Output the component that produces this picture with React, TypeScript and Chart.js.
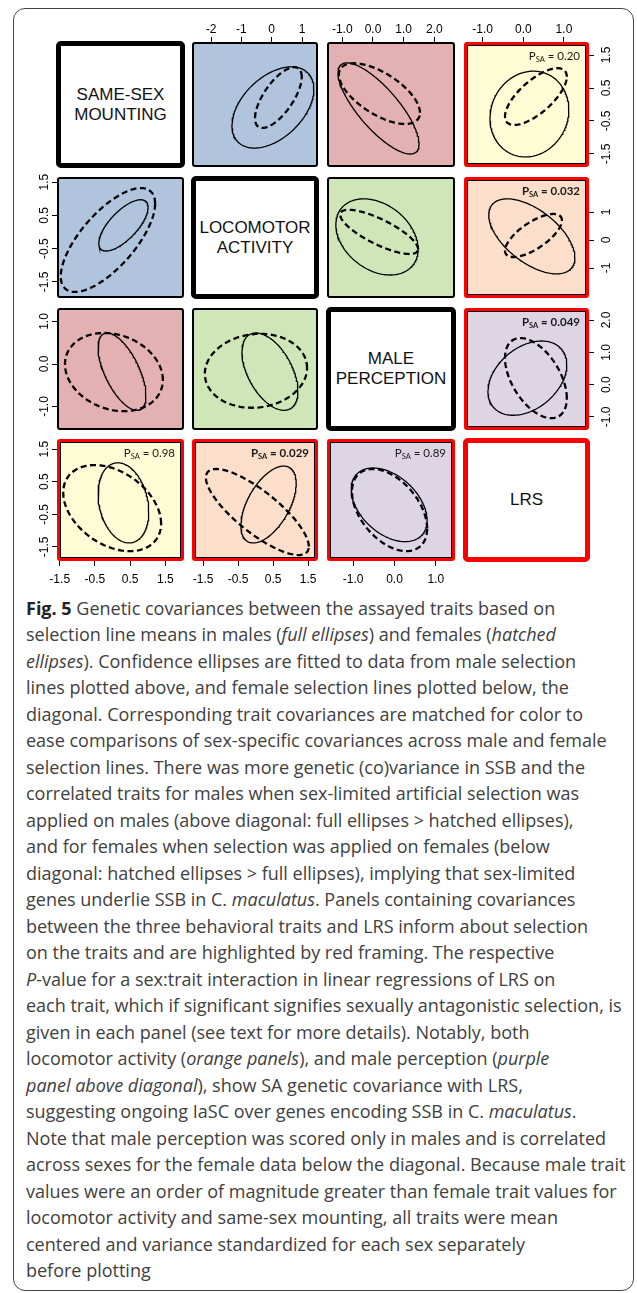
import React, { useEffect, useRef } from "react";
import { Chart, registerables } from "chart.js";
Chart.register(...registerables);

// ---------- DATA ----------
const TRAIT_LABELS = [["SAME-SEX", "MOUNTING"], ["LOCOMOTOR", "ACTIVITY"], ["MALE", "PERCEPTION"], ["LRS"]];

// off-diagonal panels: 6 above diagonal (male selection lines), 6 below (female)
const PANEL_ROW = [0, 0, 0, 1, 1, 2, 1, 2, 3, 2, 3, 3];
const PANEL_COL = [1, 2, 3, 2, 3, 3, 0, 0, 0, 1, 1, 2];

// full ellipses (males): centre, half-extent in x and y, correlation
const MALE_CX = [0.04, 0.18, 0.15, 0.13, 0.21, 0.10, 0.31, 0.27, 0.31, 0.41, 0.37, -0.13];
const MALE_CY = [-0.09, -0.12, -0.29, 0.11, 0.13, 0.20, 0.20, -0.18, -0.15, -0.18, -0.20, -0.21];
const MALE_SX = [1.35, 1.32, 0.97, 1.34, 1.06, 0.97, 0.70, 0.68, 0.72, 0.80, 0.79, 0.92];
const MALE_SY = [1.23, 1.38, 1.30, 1.36, 1.34, 1.15, 0.77, 0.91, 1.23, 0.91, 1.18, 1.13];
const MALE_R = [0.45, -0.78, 0.10, -0.32, -0.57, 0.36, 0.70, -0.62, -0.22, -0.50, 0.55, -0.42];

// hatched ellipses (females)
const FEMALE_CX = [0.22, 0.21, 0.31, 0.20, 0.25, 0.31, -0.13, 0.04, -0.01, 0.01, 0.05, -0.12];
const FEMALE_CY = [0.21, 0.33, 0.24, 0.29, 0.16, 0.20, -0.24, -0.19, -0.31, -0.16, -0.43, -0.37];
const FEMALE_SX = [0.77, 1.32, 0.76, 1.27, 0.70, 0.76, 1.34, 1.39, 1.39, 1.46, 1.47, 0.91];
const FEMALE_SY = [0.92, 0.92, 0.86, 0.79, 0.77, 1.24, 1.56, 0.92, 1.32, 0.87, 1.32, 1.26];
const FEMALE_R = [0.68, -0.63, 0.70, -0.78, 0.70, -0.50, 0.70, -0.20, -0.36, 0.08, -0.80, -0.45];

// axis limits of each panel
const X_MIN = [-2.628, -1.498, -1.459, -1.498, -1.459, -1.459, -1.577, -1.577, -1.577, -1.817, -1.817, -1.634];
const X_MAX = [1.527, 2.671, 1.616, 2.671, 1.616, 1.616, 2.031, 2.031, 2.031, 1.783, 1.783, 1.465];
const Y_MIN = [-1.894, -1.894, -1.894, -2.071, -2.071, -1.406, -1.982, -1.553, -1.933, -1.553, -1.933, -1.933];
const Y_MAX = [1.894, 1.894, 1.894, 2.25, 2.25, 2.372, 1.652, 1.318, 1.81, 1.318, 1.81, 1.81];

// tick sets
const TICKS_INT4 = [-2, -1, 0, 1];
const LABELS_INT4 = ["-2", "-1", "0", "1"];
const TICKS_DEC4 = [-1, 0, 1, 2];
const LABELS_DEC4 = ["-1.0", "0.0", "1.0", "2.0"];
const TICKS_DEC3 = [-1, 0, 1];
const LABELS_DEC3 = ["-1.0", "0.0", "1.0"];
const TICKS_HALF = [-1.5, -0.5, 0.5, 1.5];
const LABELS_HALF = ["-1.5", "-0.5", "0.5", "1.5"];
const TICKS_INT3 = [-1, 0, 1];
const LABELS_INT3 = ["-1", "0", "1"];

const X_SIDE = ["top", "top", "top", null, null, null, null, null, "bottom", null, "bottom", "bottom"];
const X_TICKS = [TICKS_INT4, TICKS_DEC4, TICKS_DEC3, null, null, null, null, null, TICKS_HALF, null, TICKS_HALF, TICKS_DEC3];
const X_LABELS = [LABELS_INT4, LABELS_DEC4, LABELS_DEC3, null, null, null, null, null, LABELS_HALF, null, LABELS_HALF, LABELS_DEC3];
const Y_SIDE = [null, null, "right", null, "right", "right", "left", "left", "left", null, null, null];
const Y_TICKS = [null, null, TICKS_HALF, null, TICKS_INT3, TICKS_DEC4, TICKS_HALF, TICKS_DEC3, TICKS_HALF, null, null, null];
const Y_LABELS = [null, null, LABELS_HALF, null, LABELS_INT3, LABELS_DEC4, LABELS_HALF, LABELS_DEC3, LABELS_HALF, null, null, null];

const P_VALUES = [null, null, "0.20", null, "0.032", "0.049", null, null, "0.98", null, "0.029", "0.89"];
const P_BOLD = [false, false, false, false, true, true, false, false, false, false, true, false];

const FILL_BLUE = "#b0c4de";
const FILL_PINK = "#e3b1b1";
const FILL_YELLOW = "#fefcd4";
const FILL_GREEN = "#cfe7b8";
const FILL_PEACH = "#fbdfcb";
const FILL_PURPLE = "#ddd5e4";
const PANEL_FILL = [FILL_BLUE, FILL_PINK, FILL_YELLOW, FILL_GREEN, FILL_PEACH, FILL_PURPLE,
  FILL_BLUE, FILL_PINK, FILL_YELLOW, FILL_GREEN, FILL_PEACH, FILL_PURPLE];

const CAPTION = [
  "**Fig. 5** Genetic covariances between the assayed traits based on",
  "selection line means in males (*full ellipses*) and females (*hatched*",
  "*ellipses*). Confidence ellipses are fitted to data from male selection",
  "lines plotted above, and female selection lines plotted below, the",
  "diagonal. Corresponding trait covariances are matched for color to",
  "ease comparisons of sex-specific covariances across male and female",
  "selection lines. There was more genetic (co)variance in SSB and the",
  "correlated traits for males when sex-limited artificial selection was",
  "applied on males (above diagonal: full ellipses > hatched ellipses),",
  "and for females when selection was applied on females (below",
  "diagonal: hatched ellipses > full ellipses), implying that sex-limited",
  "genes underlie SSB in C. *maculatus*. Panels containing covariances",
  "between the three behavioral traits and LRS inform about selection",
  "on the traits and are highlighted by red framing. The respective",
  "*P*-value for a sex:trait interaction in linear regressions of LRS on",
  "each trait, which if significant signifies sexually antagonistic selection, is",
  "given in each panel (see text for more details). Notably, both",
  "locomotor activity (*orange panels*), and male perception (*purple*",
  "*panel above diagonal*), show SA genetic covariance with LRS,",
  "suggesting ongoing IaSC over genes encoding SSB in C. *maculatus*.",
  "Note that male perception was scored only in males and is correlated",
  "across sexes for the female data below the diagonal. Because male trait",
  "values were an order of magnitude greater than female trait values for",
  "locomotor activity and same-sex mounting, all traits were mean",
  "centered and variance standardized for each sex separately",
  "before plotting",
];

// ---------- LAYOUT ----------
const COL_X = [57, 192, 327, 464];
const COL_W = [127, 126, 128, 125];
const ROW_Y = [42, 177, 308, 439];
const ROW_H = [125, 121, 122, 122];
const AXIS_W = 40;
const AXIS_H = 30;
const EXTRA = 14;
const TICK_FONT = { family: "'Liberation Sans', Arial, sans-serif", size: 12 };

function ellipse(cx: number, cy: number, sx: number, sy: number, r: number) {
  const d = Math.acos(r);
  const pts: { x: number; y: number }[] = [];
  const n = 180;
  for (let k = 0; k <= n; k++) {
    const t = (k / n) * 2 * Math.PI;
    pts.push({ x: cx + sx * Math.cos(t), y: cy + sy * Math.cos(t - d) });
  }
  return pts;
}

function Panel({ i }: { i: number }) {
  const ref = useRef<HTMLCanvasElement>(null);
  const r = PANEL_ROW[i];
  const c = PANEL_COL[i];
  const xs = X_SIDE[i];
  const ys = Y_SIDE[i];
  const mL = ys === "left" ? AXIS_W : EXTRA;
  const mR = ys === "right" ? AXIS_W : EXTRA;
  const mT = xs === "top" ? AXIS_H : EXTRA;
  const mB = xs === "bottom" ? AXIS_H : EXTRA;
  const w = COL_W[c] + mL + mR;
  const h = ROW_H[r] + mT + mB;
  const red = r === 3 || c === 3;

  useEffect(() => {
    if (!ref.current) return;
    const pval = P_VALUES[i];
    const bold = P_BOLD[i];
    const psaPlugin = {
      id: "psa",
      afterDraw(chart: any) {
        if (!pval) return;
        const { ctx, chartArea } = chart;
        const wt = bold ? "bold " : "";
        const mainFont = `${wt}11.5px Lato, 'Open Sans', sans-serif`;
        const subFont = `${wt}7.5px Lato, 'Open Sans', sans-serif`;
        const rest = " = " + pval;
        ctx.save();
        ctx.fillStyle = "#1a1a1a";
        ctx.textBaseline = "alphabetic";
        ctx.textAlign = "left";
        ctx.font = mainFont;
        const wP = ctx.measureText("P").width;
        const wRest = ctx.measureText(rest).width;
        ctx.font = subFont;
        const wSub = ctx.measureText("SA").width;
        const right = chartArea.right - 9;
        const base = chartArea.top + 17.5;
        let x = right - wRest - wSub - wP;
        ctx.font = mainFont;
        ctx.fillText("P", x, base);
        x += wP;
        ctx.font = subFont;
        ctx.fillText("SA", x, base + 2.5);
        x += wSub;
        ctx.font = mainFont;
        ctx.fillText(rest, x, base);
        ctx.restore();
      },
    };

    const xT = X_TICKS[i];
    const xL = X_LABELS[i];
    const yT = Y_TICKS[i];
    const yL = Y_LABELS[i];

    const yPad = ys === "left" ? -3 : yT === TICKS_INT3 ? 7.7 : 2.6;

    const chart = new Chart(ref.current, {
      type: "scatter",
      data: {
        datasets: [
          {
            data: ellipse(MALE_CX[i], MALE_CY[i], MALE_SX[i], MALE_SY[i], MALE_R[i]),
            showLine: true,
            borderColor: "#000",
            borderWidth: 1.3,
            pointRadius: 0,
            fill: false,
            tension: 0,
          },
          {
            data: ellipse(FEMALE_CX[i], FEMALE_CY[i], FEMALE_SX[i], FEMALE_SY[i], FEMALE_R[i]),
            showLine: true,
            borderColor: "#000",
            borderWidth: 2.3,
            borderDash: [6, 3.5],
            pointRadius: 0,
            fill: false,
            tension: 0,
          },
        ],
      },
      options: {
        animation: false,
        responsive: false,
        events: [],
        layout: {
          padding: {
            left: ys === "left" ? 0 : EXTRA,
            right: ys === "right" ? 0 : EXTRA,
            top: xs === "top" ? 0 : EXTRA,
            bottom: xs === "bottom" ? 0 : EXTRA,
          },
        },
        plugins: { legend: { display: false }, tooltip: { enabled: false } },
        scales: {
          x: {
            type: "linear",
            position: xs === "bottom" ? "bottom" : "top",
            display: !!xs,
            min: X_MIN[i],
            max: X_MAX[i],
            afterBuildTicks: (s: any) => {
              if (xT) s.ticks = xT.map((v) => ({ value: v }));
            },
            afterFit: (s: any) => {
              s.paddingLeft = 0;
              s.paddingRight = 0;
              if (xs) s.height = xs === "top" ? mT : mB;
            },
            ticks: {
              autoSkip: false,
              minRotation: 0,
              maxRotation: 0,
              padding: xs === "top" ? 0 : 6,
              color: "#000",
              font: TICK_FONT,
              callback: (_v: any, idx: number) => (xL ? xL[idx] : ""),
            },
            grid: { display: true, drawOnChartArea: false, drawTicks: true, tickLength: 5, color: "#000", lineWidth: 1 },
            border: { display: false },
          },
          y: {
            type: "linear",
            position: ys === "right" ? "right" : "left",
            display: !!ys,
            min: Y_MIN[i],
            max: Y_MAX[i],
            afterBuildTicks: (s: any) => {
              if (yT) s.ticks = yT.map((v) => ({ value: v }));
            },
            afterFit: (s: any) => {
              s.paddingTop = 0;
              s.paddingBottom = 0;
              if (ys) s.width = ys === "left" ? mL : mR;
            },
            ticks: {
              autoSkip: false,
              minRotation: 90,
              maxRotation: 90,
              crossAlign: "center",
              padding: yPad,
              color: "#000",
              font: TICK_FONT,
              callback: (_v: any, idx: number) => (yL ? yL[idx] : ""),
            },
            grid: { display: true, drawOnChartArea: false, drawTicks: true, tickLength: 5, color: "#000", lineWidth: 1 },
            border: { display: false },
          },
        },
      } as any,
      plugins: [psaPlugin],
    });
    return () => chart.destroy();
  }, [i]);

  return (
    <>
      <div
        style={{
          position: "absolute",
          left: COL_X[c],
          top: ROW_Y[r],
          width: COL_W[c],
          height: ROW_H[r],
          boxSizing: "border-box",
          background: PANEL_FILL[i],
          border: red ? "3px solid #ff0000" : "2.5px solid #000",
          boxShadow: red ? "inset 0 0 0 1px #000" : "none",
          borderRadius: 3,
          zIndex: 1,
        }}
      />
      <canvas
        ref={ref}
        width={w}
        height={h}
        style={{ position: "absolute", left: COL_X[c] - mL, top: ROW_Y[r] - mT, width: w, height: h, zIndex: 2 }}
      />
    </>
  );
}

function DiagBox({ k }: { k: number }) {
  return (
    <div
      style={{
        position: "absolute",
        left: COL_X[k] - 1,
        top: ROW_Y[k] - 1,
        width: COL_W[k] + 2,
        height: ROW_H[k] + 2,
        boxSizing: "border-box",
        border: k === 3 ? "5px solid #ff0000" : "5px solid #000",
        borderRadius: 5,
        background: "#fff",
        display: "flex",
        alignItems: "center",
        justifyContent: "center",
        textAlign: "center",
        fontFamily: "'Liberation Sans', Arial, sans-serif",
        fontSize: 17,
        lineHeight: "20px",
        color: "#111",
        zIndex: 1,
      }}
    >
      <div>
        {TRAIT_LABELS[k].map((s, j) => (
          <div key={j}>{s}</div>
        ))}
      </div>
    </div>
  );
}

function renderLine(line: string) {
  const parts: React.ReactNode[] = [];
  const re = /(\*\*[^*]+\*\*|\*[^*]+\*)/g;
  let last = 0;
  let m: RegExpExecArray | null;
  let key = 0;
  while ((m = re.exec(line))) {
    if (m.index > last) parts.push(<span key={key++}>{line.slice(last, m.index)}</span>);
    const tok = m[0];
    if (tok.startsWith("**")) parts.push(<b key={key++} style={{ fontWeight: 700, color: "#222" }}>{tok.slice(2, -2)}</b>);
    else parts.push(<i key={key++}>{tok.slice(1, -1)}</i>);
    last = m.index + tok.length;
  }
  if (last < line.length) parts.push(<span key={key++}>{line.slice(last)}</span>);
  return parts;
}

export default function App() {
  return (
    <div style={{ position: "relative", width: 637, height: 1293, background: "#fff", overflow: "hidden" }}>
      <style>{"body{margin:0;background:#fff}"}</style>
      <div
        style={{
          position: "absolute",
          left: 13,
          top: 8,
          width: 621,
          height: 1283,
          boxSizing: "border-box",
          border: "1px solid #444",
          borderRadius: 12,
        }}
      />
      {[0, 1, 2, 3].map((k) => (
        <DiagBox key={"d" + k} k={k} />
      ))}
      {PANEL_ROW.map((_, i) => (
        <Panel key={"p" + i} i={i} />
      ))}
      <div
        style={{
          position: "absolute",
          left: 26,
          top: 595,
          fontFamily: "'Open Sans', 'Noto Sans', sans-serif",
          fontSize: 18,
          color: "#404040",
          lineHeight: "26.48px",
          whiteSpace: "nowrap",
        }}
      >
        {CAPTION.map((line, j) => (
          <div key={j}>{renderLine(line)}</div>
        ))}
      </div>
    </div>
  );
}
